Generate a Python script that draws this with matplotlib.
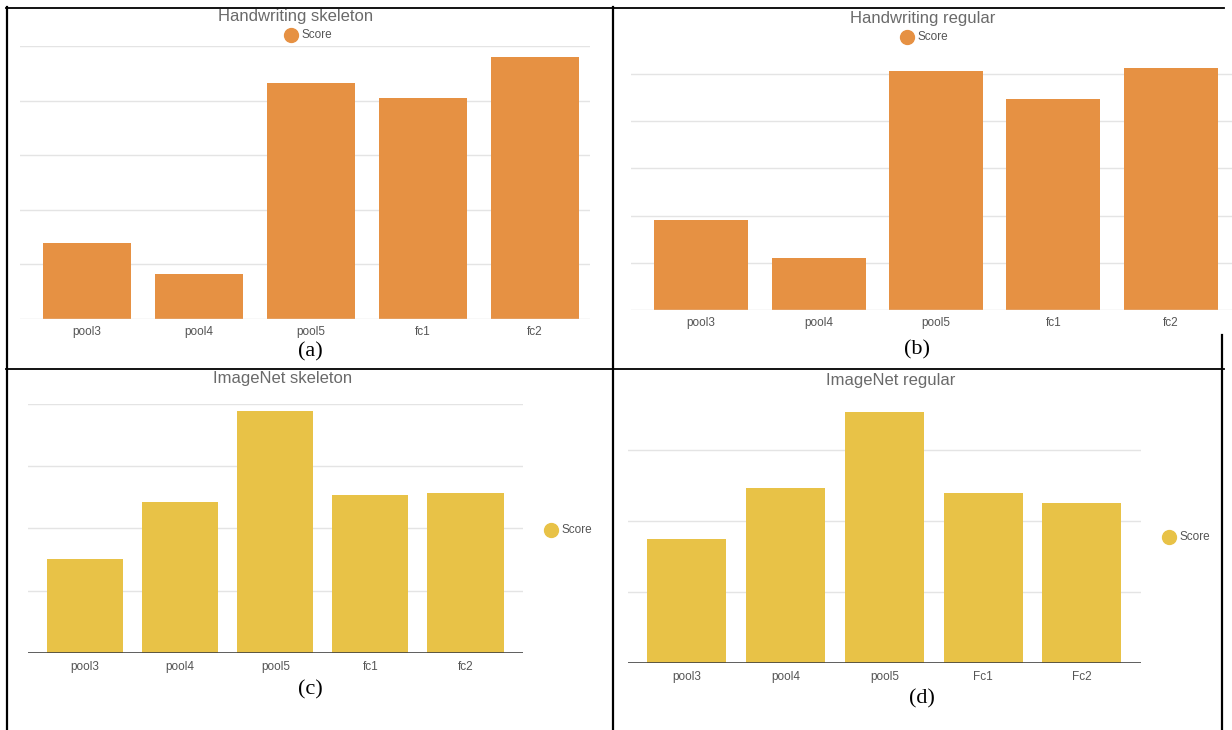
import matplotlib
matplotlib.use("Agg")
import matplotlib.pyplot as plt
from matplotlib.lines import Line2D

W, H = 1232, 730

categories_hw = ['pool3', 'pool4', 'pool5', 'fc1', 'fc2']
hw_skeleton = [1.39, 0.83, 4.32, 4.05, 4.79]
hw_regular = [1.90, 1.11, 5.06, 4.46, 5.13]
categories_in_skel = ['pool3', 'pool4', 'pool5', 'fc1', 'fc2']
in_skeleton = [1.51, 2.42, 3.89, 2.53, 2.56]
categories_in_reg = ['pool3', 'pool4', 'pool5', 'Fc1', 'Fc2']
in_regular = [1.75, 2.47, 3.53, 2.40, 2.25]

ORANGE = '#E69143'
YELLOW = '#E8C247'
GRID = '#E4E4E4'
TXT = '#555555'
TITLE = '#6a6a6a'
SANS = 'Liberation Sans'
SERIF = 'Liberation Serif'

fig = plt.figure(figsize=(W / 100, H / 100), dpi=100)
fig.patch.set_facecolor('white')


def box(x0, y0, x1, y1):
    return [x0 / W, 1 - y1 / H, (x1 - x0) / W, (y1 - y0) / H]


def fx(x):
    return x / W


def fy(y):
    return 1 - y / H


def panel(rect, cats, vals, color, ylim, xlim, width, grids, dark_base, pad):
    ax = fig.add_axes(box(*rect))
    x = list(range(len(cats)))
    ax.bar(x, vals, width=width, color=color, zorder=2)
    ax.set_xlim(*xlim)
    ax.set_ylim(*ylim)
    for g in grids:
        ax.axhline(g, color=GRID, lw=1.0, zorder=1)
    if dark_base:
        ax.axhline(0, color='#404040', lw=1.9, zorder=3)
    else:
        ax.axhline(0, color='#DDDDDD', lw=1.0, zorder=3)
    ax.set_xticks(x)
    ax.set_xticklabels(cats, fontsize=8.5, color=TXT, family=SANS)
    ax.tick_params(axis='x', length=0, pad=pad)
    ax.set_yticks([])
    for s in ax.spines.values():
        s.set_visible(False)
    ax.patch.set_alpha(0)
    return ax


def legend_item(x, y, color):
    fig.add_artist(Line2D([fx(x)], [fy(y)], marker='o', markersize=10,
                          color=color, linestyle='none'))
    fig.text(fx(x + 11), fy(y), 'Score', fontsize=8.5, color=TXT,
             family=SANS, va='center', ha='left')


# (a)
panel((20, 46, 590, 319), categories_hw, hw_skeleton, ORANGE, (0, 5),
      (-0.595, 4.495), 0.786, [1, 2, 3, 4, 5], False, 5)
fig.text(fx(296), fy(17), 'Handwriting skeleton', fontsize=12, color=TITLE,
         family=SANS, ha='center', va='center')
legend_item(291, 35, ORANGE)
fig.text(fx(310), fy(352), '(a)', fontsize=16, family=SERIF,
         ha='center', va='center')

# (b)
panel((630.6, 64.2, 1232, 310.3), categories_hw, hw_regular, ORANGE, (0, 5.2),
      (-0.6, 4.52), 0.8, [1, 2, 3, 4, 5], False, 5)
fig.text(fx(923), fy(18), 'Handwriting regular', fontsize=12, color=TITLE,
         family=SANS, ha='center', va='center')
legend_item(907, 37, ORANGE)
fig.text(fx(917), fy(350), '(b)', fontsize=16, family=SERIF,
         ha='center', va='center')

# (c)
panel((28, 403.7, 522.6, 653), categories_in_skel, in_skeleton, YELLOW, (0, 4),
      (-0.6, 4.6), 0.8, [1, 2, 3, 4], True, 6)
fig.text(fx(283), fy(378), 'ImageNet skeleton', fontsize=12, color=TITLE,
         family=SANS, ha='center', va='center')
legend_item(551, 530, YELLOW)
fig.text(fx(310), fy(690), '(c)', fontsize=16, family=SERIF,
         ha='center', va='center')

# (d)
panel((627.7, 407.5, 1141, 662.7), categories_in_reg, in_regular, YELLOW, (0, 3.6),
      (-0.6, 4.6), 0.8, [1, 2, 3], True, 6)
fig.text(fx(891), fy(381), 'ImageNet regular', fontsize=12, color=TITLE,
         family=SANS, ha='center', va='center')
legend_item(1169, 537, YELLOW)
fig.text(fx(922), fy(699), '(d)', fontsize=16, family=SERIF,
         ha='center', va='center')

# table borders
def hline(y, x0, x1, lw):
    fig.add_artist(Line2D([fx(x0), fx(x1)], [fy(y), fy(y)], color='black', lw=lw))


def vline(x, y0, y1, lw):
    fig.add_artist(Line2D([fx(x), fx(x)], [fy(y0), fy(y1)], color='black', lw=lw))


hline(8, 6, 1224, 1.3)
hline(369, 6, 1224, 1.3)
vline(7, 7, 730, 1.6)
vline(613, 7, 730, 1.6)
vline(1222, 335, 730, 1.6)

fig.savefig('out.png', dpi=100, facecolor='white')
